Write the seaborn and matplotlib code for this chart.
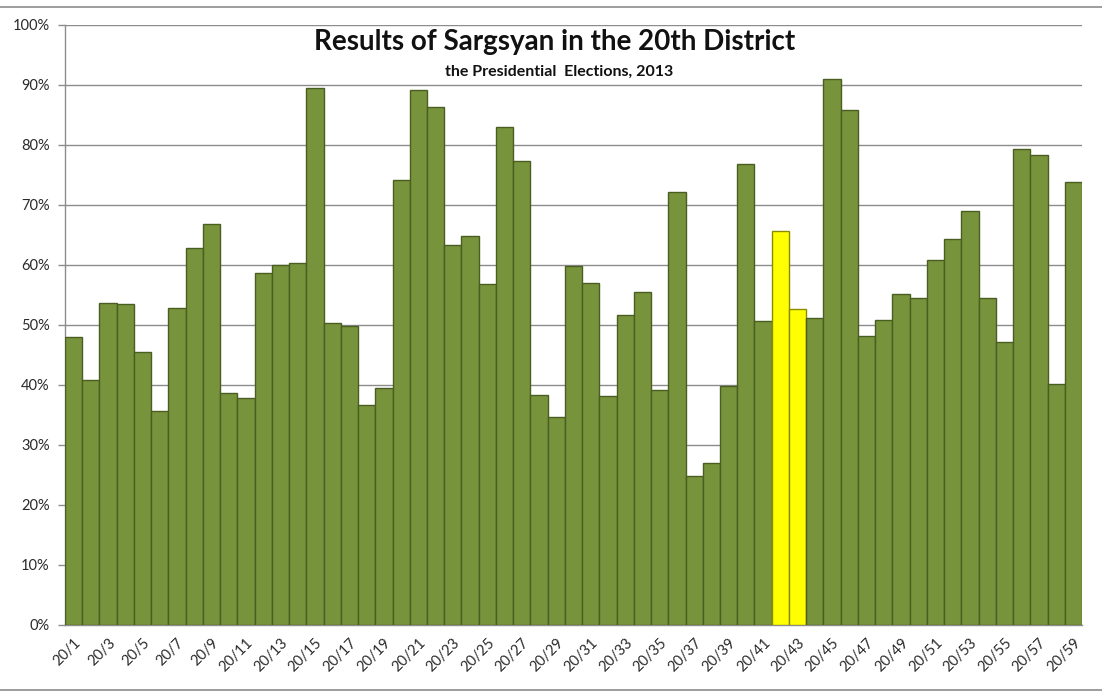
import matplotlib
matplotlib.use("Agg")
import matplotlib.pyplot as plt
import seaborn as sns
import numpy as np
from matplotlib.lines import Line2D
from matplotlib.ticker import PercentFormatter, FixedLocator

sns.set_theme(style="white")
plt.rcParams['font.family'] = ['Lato', 'DejaVu Sans']

# ---- data ----
precincts = [f"20/{i}" for i in range(1, 60)]
sargsyan_pct = [
    48.0, 40.9, 53.7, 53.5, 45.5, 35.6, 52.9, 62.9, 66.8, 38.7,
    37.9, 58.7, 60.0, 60.3, 89.5, 50.3, 49.9, 36.6, 39.5, 74.1,
    89.2, 86.3, 63.3, 64.8, 56.8, 83.0, 77.3, 38.3, 34.6, 59.8,
    57.0, 38.2, 51.7, 55.5, 39.1, 72.1, 24.9, 27.0, 39.8, 76.8,
    50.6, 65.6, 52.6, 51.1, 91.0, 85.8, 48.1, 50.8, 55.2, 54.5,
    60.8, 64.3, 69.0, 54.5, 47.2, 79.3, 78.3, 40.2, 73.9,
]
highlighted = ["20/42", "20/43"]
title = "Results of Sargsyan in the 20th District"
subtitle = "the Presidential  Elections, 2013"

green = "#77933c"
green_edge = "#4a5e22"
yellow = "#ffff00"
yellow_edge = "#8a8a00"

colors = [yellow if p in highlighted else green for p in precincts]

fig = plt.figure(figsize=(11.02, 6.93), dpi=100)
ax = fig.add_axes([65 / 1102, 1 - 625 / 693, (1082 - 65) / 1102, (625 - 25) / 693])

sns.barplot(x=precincts, y=sargsyan_pct, hue=precincts, palette=colors,
            legend=False, width=1.0, ax=ax, saturation=1.0,
            edgecolor=green_edge, linewidth=1.0, zorder=3)
for patch, p in zip(ax.patches, precincts):
    if p in highlighted:
        patch.set_edgecolor(yellow_edge)

ax.set_xlim(-0.5, len(precincts) - 0.5)
ax.set_ylim(0, 100)
ax.set_yticks(np.arange(0, 101, 10))
ax.yaxis.set_major_formatter(PercentFormatter(decimals=0))
ax.grid(axis="y", color="#8c8c8c", linewidth=1.0, zorder=0)
ax.grid(axis="x", visible=False)
ax.set_axisbelow(True)

# x ticks: labels every other category, tick marks at category boundaries
ax.xaxis.set_major_locator(FixedLocator(np.arange(0, len(precincts), 2)))
ax.set_xticklabels(precincts[::2], rotation=45, ha="right", rotation_mode="anchor",
                   fontsize=10.5, color="#2a2a2a")
ax.xaxis.set_minor_locator(FixedLocator(np.arange(-0.5, len(precincts), 1.0)))
ax.tick_params(axis="x", which="major", length=0, pad=8)
ax.tick_params(axis="x", which="minor", length=5, color="#8c8c8c", width=1, direction="out")
ax.tick_params(axis="y", length=5, color="#8c8c8c", width=1, direction="out",
               labelsize=10.5, labelcolor="#2a2a2a", left=True, pad=6)
ax.set_xlabel("")
ax.set_ylabel("")

for s in ["top", "right"]:
    ax.spines[s].set_visible(False)
for s in ["left", "bottom"]:
    ax.spines[s].set_visible(True)
    ax.spines[s].set_color("#8c8c8c")
    ax.spines[s].set_linewidth(1.0)

fig.text(555 / 1102, 1 - 42 / 693, title, ha="center", va="center",
         fontsize=20, fontweight="bold", color="#111111")
fig.text(559 / 1102, 1 - 72 / 693, subtitle, ha="center", va="center",
         fontsize=11.5, fontweight="bold", color="#111111")

# chart frame lines
fig.add_artist(Line2D([0, 1], [1 - 7 / 693, 1 - 7 / 693], color="#8c8c8c", lw=1.2,
                      transform=fig.transFigure))
fig.add_artist(Line2D([0, 1], [1 - 690 / 693, 1 - 690 / 693], color="#8c8c8c", lw=1.2,
                      transform=fig.transFigure))

fig.savefig("out.png", dpi=100, facecolor="white")
